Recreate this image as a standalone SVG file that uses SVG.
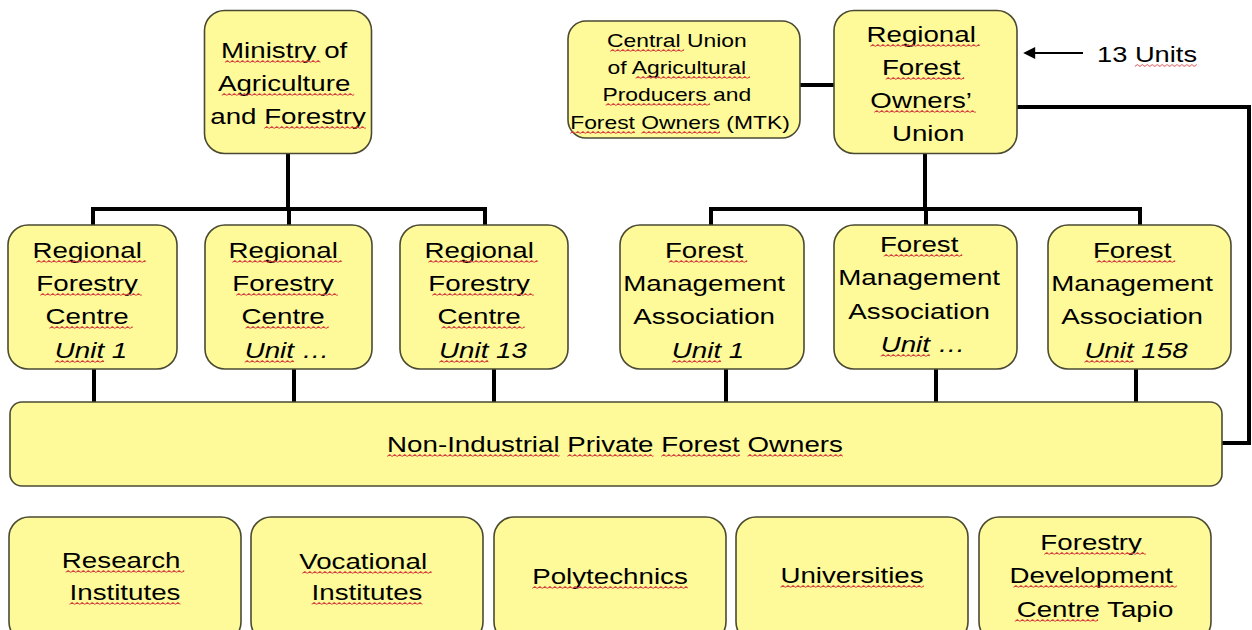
<svg xmlns="http://www.w3.org/2000/svg" width="1252" height="630" viewBox="0 0 1252 630">
  <style>
    .box{fill:#FFFA99;stroke:#4a4a33;stroke-width:1.6}
    .t{font-family:"Liberation Sans",Arial,sans-serif;font-size:22px;fill:#000;text-anchor:middle}
    .s{font-size:18px}
    .i{font-style:italic}
    .wv{fill:url(#wave)}
    .ln{stroke:#000;stroke-width:4;fill:none}
    .ar{stroke:#000;stroke-width:2;fill:none}
  </style>
  <defs>
    <!-- spell-check squiggle, tiled under flagged words -->
    <pattern id="wave" width="4" height="3" patternUnits="userSpaceOnUse">
      <path d="M0,2.5 L2,0.5 L4,2.5" fill="none" stroke="#d23c3c" stroke-width="0.8"/>
    </pattern>
    <marker id="head" viewBox="0 0 10 10" refX="1" refY="5" markerWidth="7" markerHeight="6" orient="auto-start-reverse" markerUnits="strokeWidth">
      <path d="M0,0 L10,5 L0,10 z" fill="#000"/>
    </marker>
  </defs>

  <!-- connectors -->
  <g id="connectors">
    <!-- ministry to regional forestry centres -->
    <path class="ln" d="M288,154 V209 M93,225 V209 H485 V225 M289,209 V225"/>
    <!-- owners' union to forest management associations -->
    <path class="ln" d="M925,154 V209 M711,225 V209 H1140 V225 M926,209 V225"/>
    <!-- central union link -->
    <path class="ln" d="M800,85 H834"/>
    <!-- owners' union down to the private owners -->
    <path class="ln" d="M1017,107 H1249 V443 H1222"/>
    <!-- units down to the private owners -->
    <path class="ln" d="M94,369 V402 M294,369 V402 M494,369 V402 M726,369 V402 M936,369 V402 M1136,369 V402"/>
    <!-- 13 units pointer -->
    <path class="ar" d="M1083,53 H1034" marker-end="url(#head)"/>
  </g>

  <g id="ministry">
    <rect class="box" x="204.5" y="10.5" width="167" height="143" rx="20"/>
    <g transform="translate(288 0) scale(1.26 1)">
      <text class="t">
        <tspan x="0" y="58">Ministry of</tspan>
        <tspan x="0" y="91">Agriculture</tspan>
        <tspan x="0" y="124">and Forestry</tspan>
      </text>
      <rect class="wv" transform="translate(-50.1 60)" width="75.8" height="3"/>
      <rect class="wv" transform="translate(-52.6 93)" width="105.1" height="3"/>
      <rect class="wv" transform="translate(-18.9 126)" width="80.7" height="3"/>
    </g>
  </g>

  <g id="central-union">
    <rect class="box" x="568" y="21" width="232" height="117" rx="18"/>
    <g transform="translate(680 0) scale(1.27 1)">
      <text class="t s">
        <tspan x="0" y="47">Central Union</tspan>
        <tspan x="0" y="74">of Agricultural</tspan>
        <tspan x="0" y="101">Producers and</tspan>
        <tspan x="0" y="129">Forest Owners (MTK)</tspan>
      </text>
      <rect class="wv" transform="translate(-55 49)" width="58" height="3"/>
      <rect class="wv" transform="translate(-35 76)" width="90" height="3"/>
      <rect class="wv" transform="translate(-58.5 103)" width="82" height="3"/>
      <rect class="wv" transform="translate(-86.5 131)" width="51" height="3"/>
      <rect class="wv" transform="translate(-30.5 131)" width="62" height="3"/>
    </g>
  </g>

  <g id="owners-union">
    <rect class="box" x="834" y="10.5" width="183" height="143" rx="20"/>
    <g transform="translate(925 0) scale(1.26 1)">
      <text class="t">
        <tspan x="0" y="42">Regional</tspan>
        <tspan x="0" y="75">Forest</tspan>
        <tspan x="0" y="108">Owners’</tspan>
        <tspan x="2.5" y="141">Union</tspan>
      </text>
      <rect class="wv" transform="translate(-43.4 44)" width="86.8" height="3"/>
      <rect class="wv" transform="translate(-31.2 77)" width="62.3" height="3"/>
      <rect class="wv" transform="translate(-40.3 110)" width="80.7" height="3"/>
    </g>
  </g>

  <g id="units-note">
    <g transform="translate(1147 0) scale(1.24 1)">
      <text class="t"><tspan x="0" y="62">13 Units</tspan></text>
      <rect class="wv" transform="translate(-9.8 64)" width="50.1" height="3"/>
    </g>
  </g>

  <g id="rfc-1">
    <rect class="box" x="8" y="225" width="169" height="144" rx="20"/>
    <g transform="translate(91 0) scale(1.26 1)">
      <text class="t">
        <tspan x="0" y="258">Regional</tspan>
        <tspan x="0" y="291">Forestry</tspan>
        <tspan x="0" y="324">Centre</tspan>
        <tspan x="0" y="358" class="i">Unit 1</tspan>
      </text>
      <rect class="wv" transform="translate(-43.4 260)" width="86.8" height="3"/>
      <rect class="wv" transform="translate(-40.3 293)" width="80.7" height="3"/>
      <rect class="wv" transform="translate(-33 326)" width="66" height="3"/>
      <rect class="wv" transform="translate(-28.7 360)" width="39.1" height="3"/>
    </g>
  </g>

  <g id="rfc-n">
    <rect class="box" x="205" y="225" width="167" height="144" rx="20"/>
    <g transform="translate(287 0) scale(1.26 1)">
      <text class="t">
        <tspan x="0" y="258">Regional</tspan>
        <tspan x="0" y="291">Forestry</tspan>
        <tspan x="0" y="324">Centre</tspan>
        <tspan x="0" y="358" class="i">Unit …</tspan>
      </text>
      <rect class="wv" transform="translate(-43.4 260)" width="86.8" height="3"/>
      <rect class="wv" transform="translate(-40.3 293)" width="80.7" height="3"/>
      <rect class="wv" transform="translate(-33 326)" width="66" height="3"/>
      <rect class="wv" transform="translate(-33.6 360)" width="39.1" height="3"/>
    </g>
  </g>

  <g id="rfc-13">
    <rect class="box" x="400" y="225" width="168" height="144" rx="20"/>
    <g transform="translate(483 0) scale(1.26 1)">
      <text class="t">
        <tspan x="0" y="258">Regional</tspan>
        <tspan x="0" y="291">Forestry</tspan>
        <tspan x="0" y="324">Centre</tspan>
        <tspan x="0" y="358" class="i">Unit 13</tspan>
      </text>
      <rect class="wv" transform="translate(-43.4 260)" width="86.8" height="3"/>
      <rect class="wv" transform="translate(-40.3 293)" width="80.7" height="3"/>
      <rect class="wv" transform="translate(-33 326)" width="66" height="3"/>
      <rect class="wv" transform="translate(-34.8 360)" width="39.1" height="3"/>
    </g>
  </g>

  <g id="fma-1">
    <rect class="box" x="620" y="225" width="184" height="144" rx="20"/>
    <g transform="translate(708 0) scale(1.26 1)">
      <text class="t">
        <tspan x="0" y="258">Forest</tspan>
        <tspan x="0" y="291">Management</tspan>
        <tspan x="0" y="324">Association</tspan>
        <tspan x="0" y="358" class="i">Unit 1</tspan>
      </text>
      <rect class="wv" transform="translate(-31.2 260)" width="62.3" height="3"/>
      <rect class="wv" transform="translate(-28.7 360)" width="39.1" height="3"/>
    </g>
  </g>

  <g id="fma-n">
    <rect class="box" x="834" y="225" width="183" height="144" rx="20"/>
    <g transform="translate(923 0) scale(1.26 1)">
      <text class="t">
        <tspan x="0" y="252">Forest</tspan>
        <tspan x="0" y="285">Management</tspan>
        <tspan x="0" y="319">Association</tspan>
        <tspan x="0" y="352" class="i">Unit …</tspan>
      </text>
      <rect class="wv" transform="translate(-31.2 254)" width="62.3" height="3"/>
      <rect class="wv" transform="translate(-33.6 354)" width="39.1" height="3"/>
    </g>
  </g>

  <g id="fma-158">
    <rect class="box" x="1048" y="225" width="183" height="144" rx="20"/>
    <g transform="translate(1136 0) scale(1.26 1)">
      <text class="t">
        <tspan x="0" y="258">Forest</tspan>
        <tspan x="0" y="291">Management</tspan>
        <tspan x="0" y="324">Association</tspan>
        <tspan x="0" y="358" class="i">Unit 158</tspan>
      </text>
      <rect class="wv" transform="translate(-31.2 260)" width="62.3" height="3"/>
      <rect class="wv" transform="translate(-41 360)" width="39.1" height="3"/>
    </g>
  </g>

  <g id="private-owners">
    <rect class="box" x="10" y="402" width="1212" height="84" rx="12"/>
    <g transform="translate(615 0) scale(1.26 1)">
      <text class="t"><tspan x="0" y="452">Non-Industrial Private Forest Owners</tspan></text>
      <rect class="wv" transform="translate(-180.9 454)" width="136.9" height="3"/>
      <rect class="wv" transform="translate(-37.9 454)" width="68.5" height="3"/>
      <rect class="wv" transform="translate(36.7 454)" width="62.3" height="3"/>
      <rect class="wv" transform="translate(105.1 454)" width="75.8" height="3"/>
    </g>
  </g>

  <g id="research">
    <rect class="box" x="9" y="517" width="232" height="125" rx="20"/>
    <g transform="translate(125 0) scale(1.26 1)">
      <text class="t">
        <tspan x="0" y="568">Research</tspan>
        <tspan x="0" y="600">Institutes</tspan>
      </text>
      <rect class="wv" transform="translate(-47.1 570)" width="94.1" height="3"/>
      <rect class="wv" transform="translate(-44 602)" width="88" height="3"/>
    </g>
  </g>

  <g id="vocational">
    <rect class="box" x="251" y="517" width="232" height="125" rx="20"/>
    <g transform="translate(367 0) scale(1.26 1)">
      <text class="t">
        <tspan x="0" y="569">Vocational</tspan>
        <tspan x="0" y="600">Institutes</tspan>
      </text>
      <rect class="wv" transform="translate(-51.4 571)" width="102.7" height="3"/>
      <rect class="wv" transform="translate(-44 602)" width="88" height="3"/>
    </g>
  </g>

  <g id="polytechnics">
    <rect class="box" x="494" y="517" width="232" height="125" rx="20"/>
    <g transform="translate(610 0) scale(1.26 1)">
      <text class="t"><tspan x="0" y="584">Polytechnics</tspan></text>
      <rect class="wv" transform="translate(-61.7 586)" width="123.5" height="3"/>
    </g>
  </g>

  <g id="universities">
    <rect class="box" x="736" y="517" width="232" height="125" rx="20"/>
    <g transform="translate(852 0) scale(1.26 1)">
      <text class="t"><tspan x="0" y="583">Universities</tspan></text>
      <rect class="wv" transform="translate(-56.8 585)" width="113.7" height="3"/>
    </g>
  </g>

  <g id="tapio">
    <rect class="box" x="979" y="517" width="232" height="125" rx="20"/>
    <g transform="translate(1095 0) scale(1.26 1)">
      <text class="t">
        <tspan x="0" y="550">Forestry</tspan>
        <tspan x="0" y="583">Development</tspan>
        <tspan x="0" y="617">Centre Tapio</tspan>
      </text>
      <rect class="wv" transform="translate(-40.3 552)" width="80.7" height="3"/>
      <rect class="wv" transform="translate(-64.8 585)" width="129.6" height="3"/>
      <rect class="wv" transform="translate(-63.6 619)" width="66" height="3"/>
    </g>
  </g>
</svg>
